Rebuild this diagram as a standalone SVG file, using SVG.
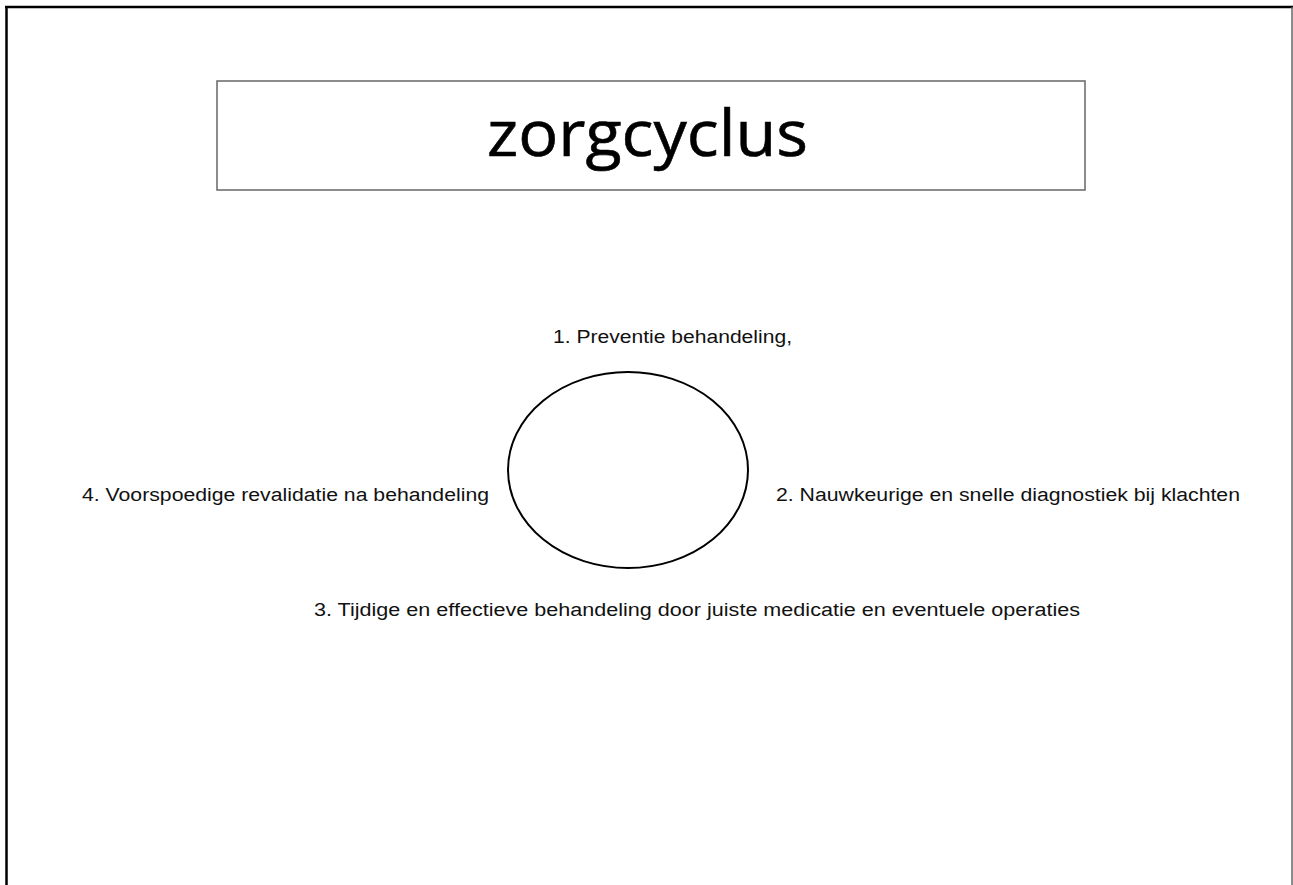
<svg xmlns="http://www.w3.org/2000/svg" width="1293" height="885" viewBox="0 0 1293 885">
<style>
.lbl{font-family:"Liberation Sans",Arial,sans-serif;font-size:18px;fill:#111}
.title{font-family:"Open Sans","Liberation Sans",sans-serif;font-size:64px;fill:#000;stroke:#000;stroke-width:0.6}
</style>
<rect x="0" y="0" width="1293" height="885" fill="#fff"/>
<g id="frame">
<line x1="6.5" y1="6" x2="6.5" y2="885" stroke="#000" stroke-width="2.5"/>
<line x1="5" y1="7" x2="1293" y2="7" stroke="#000" stroke-width="2.5"/>
<line x1="1292" y1="7" x2="1292" y2="885" stroke="#666" stroke-width="1.5"/>
</g>
<g id="title">
<rect x="217" y="81" width="868" height="109" fill="#fff" stroke="#666" stroke-width="1.5"/>
<text class="title" x="487" y="156" textLength="321" lengthAdjust="spacingAndGlyphs">zorgcyclus</text>
</g>
<g id="cycle">
<ellipse cx="628" cy="470" rx="120" ry="98" fill="none" stroke="#000" stroke-width="2"/>
</g>
<g id="step1"><text class="lbl" x="553" y="343" textLength="239" lengthAdjust="spacingAndGlyphs">1. Preventie behandeling,</text></g>
<g id="step2"><text class="lbl" x="776" y="501" textLength="464" lengthAdjust="spacingAndGlyphs">2. Nauwkeurige en snelle diagnostiek bij klachten</text></g>
<g id="step3"><text class="lbl" x="314" y="616" textLength="766" lengthAdjust="spacingAndGlyphs">3. Tijdige en effectieve behandeling door juiste medicatie en eventuele operaties</text></g>
<g id="step4"><text class="lbl" x="82" y="501" textLength="407" lengthAdjust="spacingAndGlyphs">4. Voorspoedige revalidatie na behandeling</text></g>
<g id="connectors"></g>
</svg>
